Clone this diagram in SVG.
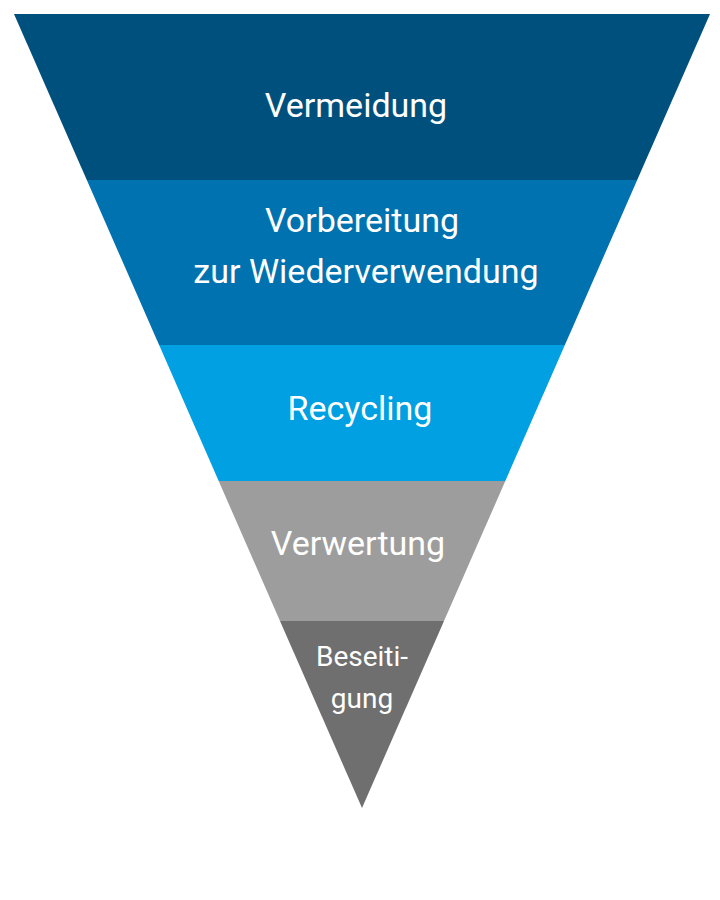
<svg xmlns="http://www.w3.org/2000/svg" width="720" height="900" viewBox="0 0 720 900">
<style>
text{font-family:"Roboto","Liberation Sans",sans-serif;fill:#fff;text-anchor:middle}
.l{font-size:34px}
.s{font-size:28px}
</style>
<rect width="720" height="900" fill="#fff"/>
<g id="vermeidung"><polygon points="14,14 710,14 637.2,180 86.8,180" fill="#00507e"/><text class="l" x="356" y="117">Vermeidung</text></g>
<g id="vorbereitung"><polygon points="86.8,180 637.2,180 564.9,345 159.1,345" fill="#0072b0"/><text class="l" x="362" y="232">Vorbereitung</text><text class="l" x="366" y="283">zur Wiederverwendung</text></g>
<g id="recycling"><polygon points="159.1,345 564.9,345 505.3,481 218.7,481" fill="#00a0e2"/><text class="l" x="360" y="420">Recycling</text></g>
<g id="verwertung"><polygon points="218.7,481 505.3,481 444,621 280,621" fill="#9d9d9d"/><text class="l" x="358" y="555">Verwertung</text></g>
<g id="beseitigung"><polygon points="280,621 444,621 362,808" fill="#6f6f6f"/><text class="s" x="362" y="666">Beseiti-</text><text class="s" x="362" y="708">gung</text></g>
<g id="connectors"/>
</svg>
